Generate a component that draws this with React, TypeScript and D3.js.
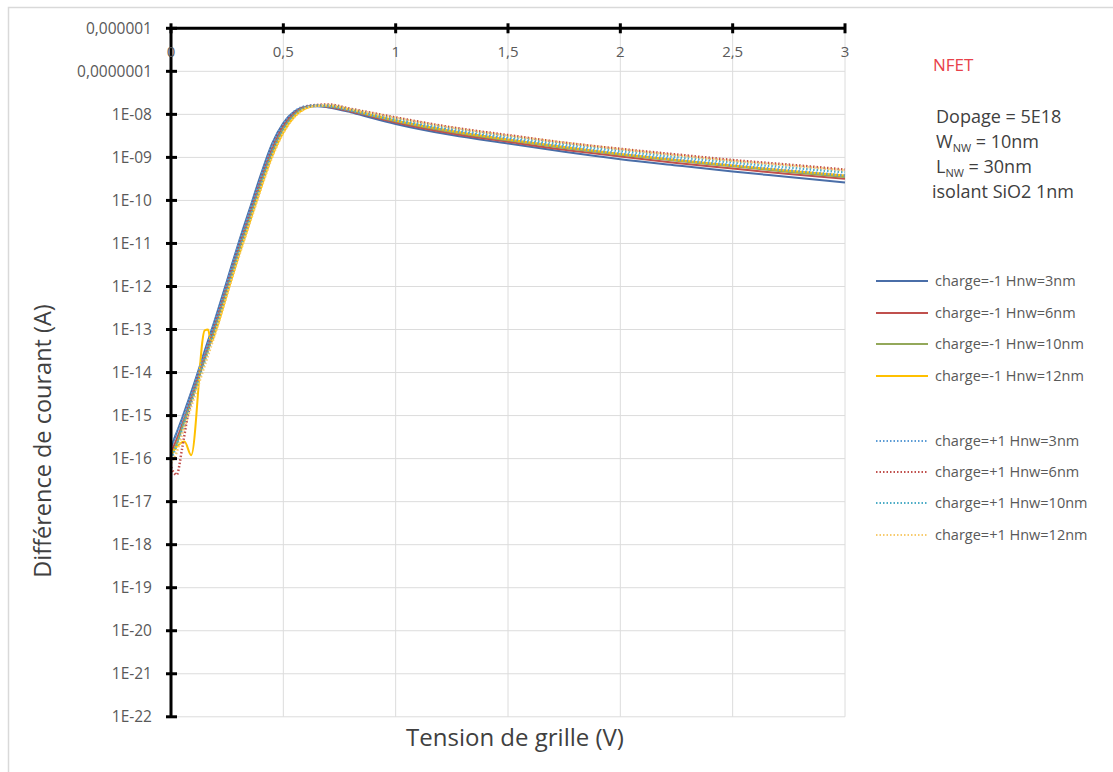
import React from "react";
import * as d3 from "d3";

// ---------- data ----------
const V_GRID = [0, 0.025, 0.05, 0.075, 0.1, 0.15, 0.2, 0.25, 0.3, 0.35, 0.4, 0.45, 0.5, 0.55, 0.6, 0.65, 0.7, 0.8, 0.9, 1.0, 1.25, 1.5, 1.75, 2.0, 2.25, 2.5, 2.75, 3.0];
const V_Y12 = [0, 0.03, 0.06, 0.09, 0.15, 0.165, 0.178, 0.2, 0.25, 0.3, 0.35, 0.4, 0.45, 0.5, 0.55, 0.6, 0.65, 0.7, 0.8, 0.9, 1.0, 1.25, 1.5, 1.75, 2.0, 2.25, 2.5, 2.75, 3.0];

const I_NEG_3 = [1.8e-16, 4.0e-16, 8.9e-16, 2.1e-15, 5.0e-15, 3.2e-14, 2.0e-13, 1.4e-12, 1.0e-11, 6.3e-11, 4.0e-10, 2.1e-9, 6.3e-9, 1.17e-8, 1.51e-8, 1.55e-8, 1.45e-8, 1.12e-8, 8.1e-9, 6.0e-9, 3.3e-9, 2.1e-9, 1.35e-9, 9.1e-10, 6.5e-10, 4.7e-10, 3.5e-10, 2.6e-10];
const I_NEG_6 = [1.4e-16, 2.8e-16, 6.3e-16, 1.5e-15, 3.7e-15, 2.3e-14, 1.5e-13, 1.05e-12, 7.4e-12, 4.7e-11, 3.0e-10, 1.6e-9, 5.4e-9, 1.07e-8, 1.48e-8, 1.58e-8, 1.51e-8, 1.17e-8, 8.7e-9, 6.5e-9, 3.6e-9, 2.3e-9, 1.5e-9, 1.05e-9, 7.4e-10, 5.5e-10, 4.1e-10, 3.2e-10];
const I_NEG_10 = [1.1e-16, 2.2e-16, 5.2e-16, 1.26e-15, 3.2e-15, 2.0e-14, 1.26e-13, 8.9e-13, 6.3e-12, 4.0e-11, 2.5e-10, 1.3e-9, 4.7e-9, 1.0e-8, 1.45e-8, 1.58e-8, 1.55e-8, 1.23e-8, 9.1e-9, 6.9e-9, 3.9e-9, 2.5e-9, 1.66e-9, 1.15e-9, 8.3e-10, 6.2e-10, 4.6e-10, 3.5e-10];
const I_NEG_12 = [1.26e-16, 2.0e-16, 2.5e-16, 1.2e-16, 9.5e-14, 1.0e-13, 5.0e-14, 9.5e-14, 6.8e-13, 4.8e-12, 3.0e-11, 1.9e-10, 1.05e-9, 3.8e-9, 8.9e-9, 1.38e-8, 1.58e-8, 1.58e-8, 1.29e-8, 9.5e-9, 7.2e-9, 4.1e-9, 2.6e-9, 1.74e-9, 1.2e-9, 8.7e-10, 6.5e-10, 4.9e-10, 3.8e-10];
const I_POS_3 = [2.0e-16, 3.8e-16, 7.9e-16, 1.86e-15, 4.5e-15, 2.8e-14, 1.8e-13, 1.26e-12, 8.9e-12, 5.6e-11, 3.5e-10, 1.9e-9, 6.0e-9, 1.17e-8, 1.55e-8, 1.62e-8, 1.55e-8, 1.23e-8, 9.3e-9, 7.2e-9, 4.2e-9, 2.7e-9, 1.78e-9, 1.23e-9, 8.9e-10, 6.6e-10, 5.0e-10, 3.8e-10];
const I_POS_6 = [6.3e-17, 4.2e-17, 1.78e-16, 1.0e-15, 3.2e-15, 2.1e-14, 1.32e-13, 9.3e-13, 6.6e-12, 4.2e-11, 2.6e-10, 1.4e-9, 5.0e-9, 1.05e-8, 1.51e-8, 1.66e-8, 1.7e-8, 1.35e-8, 1.07e-8, 8.5e-9, 5.0e-9, 3.3e-9, 2.2e-9, 1.58e-9, 1.17e-9, 8.7e-10, 6.8e-10, 5.2e-10];
const I_POS_10 = [1.0e-16, 2.0e-16, 4.8e-16, 1.17e-15, 2.9e-15, 1.82e-14, 1.15e-13, 8.1e-13, 5.8e-12, 3.6e-11, 2.3e-10, 1.26e-9, 4.5e-9, 9.8e-9, 1.48e-8, 1.62e-8, 1.62e-8, 1.29e-8, 1.0e-8, 7.8e-9, 4.6e-9, 3.0e-9, 2.0e-9, 1.41e-9, 1.02e-9, 7.6e-10, 5.8e-10, 4.5e-10];
const I_POS_12 = [7.9e-17, 1.4e-16, 3.8e-16, 9.3e-16, 2.3e-15, 1.45e-14, 9.1e-14, 6.5e-13, 4.6e-12, 2.9e-11, 1.82e-10, 1.0e-9, 3.7e-9, 8.7e-9, 1.38e-8, 1.58e-8, 1.66e-8, 1.32e-8, 1.05e-8, 8.3e-9, 4.9e-9, 3.2e-9, 2.2e-9, 1.55e-9, 1.12e-9, 8.3e-10, 6.5e-10, 5.0e-10];

const SERIES_NAMES = [
  "charge=-1 Hnw=3nm", "charge=-1 Hnw=6nm", "charge=-1 Hnw=10nm", "charge=-1 Hnw=12nm",
  "charge=+1 Hnw=3nm", "charge=+1 Hnw=6nm", "charge=+1 Hnw=10nm", "charge=+1 Hnw=12nm",
];
const SERIES_X = [V_GRID, V_GRID, V_GRID, V_Y12, V_GRID, V_GRID, V_GRID, V_GRID];
const SERIES_Y = [I_NEG_3, I_NEG_6, I_NEG_10, I_NEG_12, I_POS_3, I_POS_6, I_POS_10, I_POS_12];
const SERIES_COLORS = ["#4A6EA8", "#C0504D", "#93A85A", "#FFC000", "#5B9BD5", "#C0504D", "#4BACC6", "#F7CB6E"];
const SERIES_DOTTED = [false, false, false, false, true, true, true, true];

const X_TICKS = [0, 0.5, 1, 1.5, 2, 2.5, 3];
const X_TICK_LABELS = ["0", "0,5", "1", "1,5", "2", "2,5", "3"];
const Y_TICKS = [1e-6, 1e-7, 1e-8, 1e-9, 1e-10, 1e-11, 1e-12, 1e-13, 1e-14, 1e-15, 1e-16, 1e-17, 1e-18, 1e-19, 1e-20, 1e-21, 1e-22];
const Y_TICK_LABELS = ["0,000001", "0,0000001", "1E-08", "1E-09", "1E-10", "1E-11", "1E-12", "1E-13", "1E-14", "1E-15", "1E-16", "1E-17", "1E-18", "1E-19", "1E-20", "1E-21", "1E-22"];

// ---------- layout ----------
const W = 1113;
const H = 772;
const X0 = 171;
const X1 = 845;
const Y0 = 28.3;
const Y1 = 716.8;
const FONT = "'Open Sans', 'Noto Sans', sans-serif";

export default function App() {
  const x = d3.scaleLinear().domain([0, 3]).range([X0, X1]);
  const y = d3.scaleLog().domain([1e-22, 1e-6]).range([Y1, Y0]);

  const line = d3
    .line<[number, number]>()
    .x((d) => x(d[0]))
    .y((d) => y(d[1]))
    .curve(d3.curveMonotoneX);

  const paths = SERIES_NAMES.map((name, i) => {
    const pts: [number, number][] = SERIES_X[i].map((v, k) => [v, SERIES_Y[i][k]]);
    return { name, d: line(pts) || "", color: SERIES_COLORS[i], dotted: SERIES_DOTTED[i] };
  });

  const legendY = [281, 313, 344, 376, 441, 472, 503, 535];

  return (
    <svg
      width={W}
      height={H}
      style={{ position: "absolute", left: 0, top: 0, background: "#fff" }}
      fontFamily={FONT}
    >
      <rect x={0} y={0} width={W} height={H} fill="#fff" />
      <rect x={8.5} y={7.5} width={W + 20} height={H + 20} fill="none" stroke="#D9D9D9" strokeWidth={1.5} />

      {/* gridlines */}
      {Y_TICKS.slice(1).map((t) => (
        <line key={"gy" + t} x1={X0} x2={X1} y1={y(t)} y2={y(t)} stroke="#DCDCDC" strokeWidth={1} />
      ))}
      {X_TICKS.slice(1).map((t) => (
        <line key={"gx" + t} x1={x(t)} x2={x(t)} y1={Y0} y2={Y1} stroke="#DCDCDC" strokeWidth={1} />
      ))}

      {/* series */}
      {paths.map((p) => (
        <path
          key={p.name}
          d={p.d}
          fill="none"
          stroke={p.color}
          strokeWidth={p.dotted ? 2.5 : 2}
          strokeDasharray={p.dotted ? "1.5 2" : undefined}
          strokeLinejoin="round"
        />
      ))}

      {/* axes */}
      <line x1={X0} x2={X1} y1={Y0} y2={Y0} stroke="#000" strokeWidth={3} />
      <line x1={X0} x2={X0} y1={Y0} y2={Y1 + 1} stroke="#000" strokeWidth={3} />
      {X_TICKS.map((t) => (
        <line key={"tx" + t} x1={x(t)} x2={x(t)} y1={Y0 - 5} y2={Y0 + 5} stroke="#000" strokeWidth={3} />
      ))}
      {Y_TICKS.map((t) => (
        <line key={"ty" + t} x1={X0 - 5} x2={X0 + 6} y1={y(t)} y2={y(t)} stroke="#000" strokeWidth={3} />
      ))}

      {/* tick labels */}
      {X_TICKS.map((t, i) => (
        <text key={"lx" + t} x={x(t)} y={57} textAnchor="middle" fontSize={15} fill="#595959">
          {X_TICK_LABELS[i]}
        </text>
      ))}
      {Y_TICKS.map((t, i) => (
        <text key={"ly" + t} x={152} y={y(t)} dy="0.35em" textAnchor="end" fontSize={15.5} fill="#595959">
          {Y_TICK_LABELS[i]}
        </text>
      ))}

      {/* axis titles */}
      <text x={515} y={746} textAnchor="middle" fontSize={24} fill="#404040">
        Tension de grille (V)
      </text>
      <text
        transform={`translate(51, 441) rotate(-90)`}
        textAnchor="middle"
        fontSize={23.5}
        fill="#404040"
      >
        Différence de courant (A)
      </text>

      {/* annotation */}
      <text x={933} y={71} fontSize={17} fill="#E8414A">NFET</text>
      <g fontSize={18} fill="#404040">
        <text x={936} y={123}>Dopage = 5E18</text>
        <text x={936} y={148}>
          W<tspan fontSize={11} dy={4}>NW</tspan>
          <tspan dy={-4}> = 10nm</tspan>
        </text>
        <text x={936} y={173}>
          L<tspan fontSize={11} dy={4}>NW</tspan>
          <tspan dy={-4}> = 30nm</tspan>
        </text>
        <text x={932} y={198}>isolant SiO2 1nm</text>
      </g>

      {/* legend */}
      {paths.map((p, i) => (
        <g key={"lg" + p.name}>
          <line
            x1={876}
            x2={928}
            y1={legendY[i]}
            y2={legendY[i]}
            stroke={p.color}
            strokeWidth={p.dotted ? 2.2 : 2.2}
            strokeDasharray={p.dotted ? "1.5 2" : undefined}
          />
          <text x={935} y={legendY[i]} dy="0.35em" fontSize={14.5} fill="#595959">
            {p.name}
          </text>
        </g>
      ))}
    </svg>
  );
}
